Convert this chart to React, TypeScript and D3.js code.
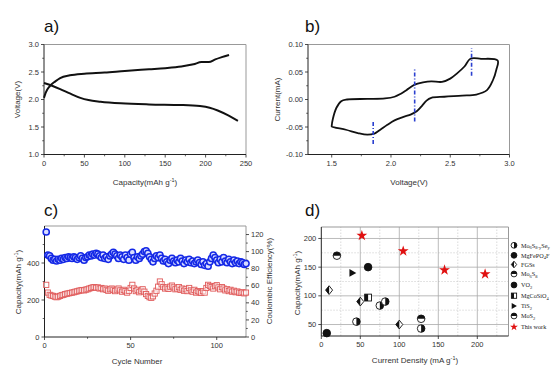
import React from 'react';
import * as d3 from 'd3';

// ---------- Data ----------
const chargeCurve: [number, number][] = [[0,2.03],[2,2.12],[7,2.24],[14,2.33],[20,2.39],[32,2.44],[50,2.47],[75,2.49],[100,2.52],[130,2.55],[150,2.57],[170,2.60],[185,2.64],[195,2.68],[204,2.68],[212,2.73],[220,2.77],[229,2.81]];
const dischargeCurve: [number, number][] = [[0,2.30],[10,2.25],[20,2.19],[32,2.11],[45,2.03],[55,1.99],[70,1.96],[95,1.93],[130,1.91],[170,1.90],[193,1.88],[205,1.85],[215,1.80],[228,1.71],[240,1.61]];

const cvLoop: [number, number][] = [[1.50,-0.048],[1.51,-0.035],[1.54,-0.015],[1.58,-0.003],[1.63,0.0],[1.8,0.001],[1.95,0.002],[2.03,0.005],[2.08,0.010],[2.13,0.017],[2.2,0.027],[2.27,0.031],[2.34,0.033],[2.43,0.032],[2.5,0.038],[2.56,0.048],[2.62,0.060],[2.67,0.074],[2.76,0.074],[2.9,0.071],[2.89,0.055],[2.86,0.035],[2.81,0.017],[2.72,0.009],[2.6,0.007],[2.45,0.005],[2.34,0.003],[2.3,-0.002],[2.26,-0.012],[2.22,-0.021],[2.17,-0.027],[2.1,-0.032],[2.03,-0.038],[1.97,-0.046],[1.91,-0.055],[1.86,-0.062],[1.8,-0.064],[1.72,-0.061],[1.62,-0.055],[1.5,-0.049]];
const cvPeakLines: [number, number, number][] = [[1.85,-0.081,-0.040],[2.2,-0.040,0.055],[2.68,0.043,0.093]];

const cycles: number[] = Array.from({ length: 117 }, (_, i) => i + 1);
const efficiency: number[] = [123,96,95,92,90,91,89,91,90,92,91,93,92,94,93,92,94,93,91,93,95,92,90,93,94,96,95,97,96,98,97,95,93,96,92,94,91,95,97,99,97,95,92,96,94,91,96,93,90,97,99,93,90,94,92,95,97,100,101,98,94,91,88,92,95,93,96,92,89,91,88,86,90,92,89,87,90,88,92,89,86,90,88,91,87,89,86,88,90,87,85,88,84,86,83,88,92,96,93,90,87,91,88,93,89,87,91,88,86,90,87,89,86,88,87,85,86];
const capacity: number[] = [282,240,228,224,222,218,215,218,222,226,228,232,234,236,238,240,242,245,247,250,252,254,252,256,258,262,265,268,270,266,268,262,265,258,262,255,250,258,262,255,248,256,262,252,245,255,248,240,250,265,282,262,248,255,242,250,258,245,232,222,215,212,220,235,250,272,300,285,270,262,268,260,272,278,268,258,262,270,255,262,250,258,248,265,252,245,255,240,248,242,238,248,240,265,282,276,270,262,275,280,268,258,270,262,252,258,248,255,245,250,242,246,240,238,242,236,240];

const materials: string[] = ['Mo6S8-ySey','MgFePO4F','FGSs','Mo6S8','VO2','MgCoSiO4','TiS2','MoS2','This work'];
const materialMarkers: string[] = ['halfR','full','diamond','halfTop','full','halfSquare','tri','halfTop','star'];
const densityX: number[] = [45,75,82,128, 7, 10,50,100, 20, 60, 60, 40, 128, 52,105,158,210];
const densityY: number[] = [55,83,90,43, 35, 110,90,50, 170, 150, 97, 140, 60, 205,178,145,138];
const densityMat: number[] = [0,0,0,0, 1, 2,2,2, 3, 4, 5, 6, 7, 8,8,8,8];

const aXTicks = [0,50,100,150,200,250];
const aYTicks = [1.0,1.5,2.0,2.5,3.0];
const bXTicks = [1.5,2.0,2.5,3.0];
const bYTicks = [-0.10,-0.05,0.00,0.05,0.10];
const cXTicks = [0,50,100];
const cYLTicks = [0,200,400];
const cYRTicks = [0,20,40,60,80,100,120];
const dXTicks = [0,50,100,150,200];
const dYTicks = [50,100,150,200];

const FONT = "'Liberation Sans', Arial, sans-serif";
const SERIF = "'Liberation Serif', 'Times New Roman', serif";

// ---------- Scales ----------
const aX = d3.scaleLinear().domain([0, 250]).range([44, 246]);
const aY = d3.scaleLinear().domain([1, 3]).range([154.5, 44.5]);
const bX = d3.scaleLinear().domain([1.3, 3.0]).range([308, 509.5]);
const bY = d3.scaleLinear().domain([-0.1, 0.1]).range([154.5, 44.5]);
const cX = d3.scaleLinear().domain([0, 117]).range([44.5, 246]);
const cYL = d3.scaleLinear().domain([0, 600]).range([337, 226]);
const cYR = d3.scaleLinear().domain([0, 130]).range([337, 226]);
const dX = d3.scaleLinear().domain([0, 240]).range([321.3, 508.5]);
const dY = d3.scaleLinear().domain([30, 220]).range([336, 227]);

type S = d3.ScaleLinear<number, number>;

function Frame({ x, y }: { x: S; y: S }) {
  const [x0, x1] = x.range();
  const [y0, y1] = y.range();
  return (
    <g>
      <line x1={x0} x2={x1} y1={y1} y2={y1} stroke="#999" strokeWidth={1} />
      <line x1={x1} x2={x1} y1={y1} y2={y0} stroke="#999" strokeWidth={1} />
      <line x1={x0} x2={x1} y1={y0} y2={y0} stroke="#222" strokeWidth={1} />
      <line x1={x0} x2={x0} y1={y1} y2={y0} stroke="#222" strokeWidth={1} />
    </g>
  );
}

function XTicks({ x, y, ticks, fmt, minor }: { x: S; y: S; ticks: number[]; fmt: (v: number) => string; minor?: number[] }) {
  const y0 = y.range()[0];
  return (
    <g>
      {ticks.map((t) => (
        <g key={t}>
          <line x1={x(t)} x2={x(t)} y1={y0} y2={y0 + 3} stroke="#222" strokeWidth={0.8} />
          <text x={x(t)} y={y0 + 11} fontSize={7.5} textAnchor="middle" fill="#333" fontFamily={FONT}>{fmt(t)}</text>
        </g>
      ))}
      {(minor || []).map((t) => (
        <line key={'m' + t} x1={x(t)} x2={x(t)} y1={y0} y2={y0 + 1.8} stroke="#222" strokeWidth={0.7} />
      ))}
    </g>
  );
}

function YTicks({ x, y, ticks, fmt, minor, right }: { x: S; y: S; ticks: number[]; fmt: (v: number) => string; minor?: number[]; right?: boolean }) {
  const x0 = right ? x.range()[1] : x.range()[0];
  const dir = right ? 1 : -1;
  return (
    <g>
      {ticks.map((t) => (
        <g key={t}>
          <line x1={x0} x2={x0 + dir * 3} y1={y(t)} y2={y(t)} stroke="#222" strokeWidth={0.8} />
          <text x={x0 + dir * 5} y={y(t) + 2.6} fontSize={7.5} textAnchor={right ? 'start' : 'end'} fill="#333" fontFamily={FONT}>{fmt(t)}</text>
        </g>
      ))}
      {(minor || []).map((t) => (
        <line key={'m' + t} x1={x0} x2={x0 + dir * 1.8} y1={y(t)} y2={y(t)} stroke="#222" strokeWidth={0.7} />
      ))}
    </g>
  );
}

function Unit({ base }: { base: string }) {
  return (
    <>
      {base}<tspan fontSize={5.5} dy={-3}>-1</tspan><tspan dy={3}>)</tspan>
    </>
  );
}

function Marker({ type, cx, cy, r }: { type: string; cx: number; cy: number; r: number }) {
  const sw = 0.9;
  if (type === 'full') return <circle cx={cx} cy={cy} r={r} fill="#111" stroke="#111" strokeWidth={sw} />;
  if (type === 'halfR')
    return (
      <g>
        <circle cx={cx} cy={cy} r={r} fill="#fff" stroke="#111" strokeWidth={sw} />
        <path d={`M${cx},${cy - r} A${r},${r} 0 0 1 ${cx},${cy + r} Z`} fill="#111" />
      </g>
    );
  if (type === 'halfTop')
    return (
      <g>
        <circle cx={cx} cy={cy} r={r} fill="#fff" stroke="#111" strokeWidth={sw} />
        <path d={`M${cx - r},${cy} A${r},${r} 0 0 1 ${cx + r},${cy} Z`} fill="#111" />
      </g>
    );
  if (type === 'diamond') {
    const h = r * 1.15;
    return (
      <g>
        <path d={`M${cx},${cy - h} L${cx + h * 0.8},${cy} L${cx},${cy + h} L${cx - h * 0.8},${cy} Z`} fill="#fff" stroke="#111" strokeWidth={sw} />
        <path d={`M${cx},${cy - h} L${cx - h * 0.8},${cy} L${cx},${cy + h} Z`} fill="#111" />
      </g>
    );
  }
  if (type === 'halfSquare') {
    const h = r * 0.9;
    return (
      <g>
        <rect x={cx - h} y={cy - h} width={2 * h} height={2 * h} fill="#fff" stroke="#111" strokeWidth={sw} />
        <rect x={cx - h} y={cy - h} width={h} height={2 * h} fill="#111" />
      </g>
    );
  }
  if (type === 'tri')
    return <path d={`M${cx - r * 0.8},${cy - r} L${cx + r},${cy} L${cx - r * 0.8},${cy + r} Z`} fill="#111" />;
  if (type === 'star') {
    const p = d3.symbol().type(d3.symbolStar).size(r * r * 1.35)();
    return <path d={p || ''} transform={`translate(${cx},${cy})`} fill="#e01010" />;
  }
  return null;
}

function LegendLabel({ name }: { name: string }) {
  const sub = (s: string) => <tspan fontSize={4.5} dy={1.5}>{s}</tspan>;
  const up = <tspan dy={-1.5}></tspan>;
  switch (name) {
    case 'Mo6S8-ySey':
      return <>Mo{sub('6')}<tspan dy={-1.5}>S</tspan>{sub('8-y')}<tspan dy={-1.5}>Se</tspan>{sub('y')}</>;
    case 'MgFePO4F':
      return <>MgFePO{sub('4')}<tspan dy={-1.5}>F</tspan></>;
    case 'Mo6S8':
      return <>Mo{sub('6')}<tspan dy={-1.5}>S</tspan>{sub('8')}</>;
    case 'VO2':
      return <>VO{sub('2')}</>;
    case 'MgCoSiO4':
      return <>MgCoSiO{sub('4')}</>;
    case 'TiS2':
      return <>TiS{sub('2')}</>;
    case 'MoS2':
      return <>MoS{sub('2')}</>;
    default:
      return <>{name}{up}</>;
  }
}

export default function App() {
  const lineA = d3.line<[number, number]>().x((d) => aX(d[0])).y((d) => aY(d[1])).curve(d3.curveMonotoneX);
  const lineB = d3.line<[number, number]>().x((d) => bX(d[0])).y((d) => bY(d[1])).curve(d3.curveCatmullRomClosed.alpha(0.5));

  const legendY = [245.3, 255.3, 264.5, 274, 285, 295.7, 306, 316, 327];

  return (
    <svg width={558} height={376} style={{ position: 'absolute', left: 0, top: 0, background: '#fff' }} fontFamily={FONT}>
      <rect x={0} y={0} width={558} height={376} fill="#fff" />

      {/* ---------- Panel a ---------- */}
      <text x={44} y={31.5} fontSize={17} fill="#111">a)</text>
      <Frame x={aX} y={aY} />
      <XTicks x={aX} y={aY} ticks={aXTicks} fmt={(v) => String(v)} minor={[25, 75, 125, 175, 225]} />
      <YTicks x={aX} y={aY} ticks={aYTicks} fmt={(v) => v.toFixed(1)} minor={[1.25, 1.75, 2.25, 2.75]} />
      <path d={lineA(chargeCurve) || ''} fill="none" stroke="#111" strokeWidth={2} />
      <path d={lineA(dischargeCurve) || ''} fill="none" stroke="#111" strokeWidth={2} />
      <text x={145} y={185} fontSize={8} textAnchor="middle" fill="#333"><Unit base="Capacity(mAh g" /></text>
      <text transform="translate(20,99.5) rotate(-90)" fontSize={8} textAnchor="middle" fill="#333">Voltage(V)</text>

      {/* ---------- Panel b ---------- */}
      <text x={305} y={31.5} fontSize={17} fill="#111">b)</text>
      <Frame x={bX} y={bY} />
      <XTicks x={bX} y={bY} ticks={bXTicks} fmt={(v) => v.toFixed(1)} minor={[1.75, 2.25, 2.75]} />
      <YTicks x={bX} y={bY} ticks={bYTicks} fmt={(v) => v.toFixed(2)} minor={[-0.075, -0.025, 0.025, 0.075]} />
      <path d={lineB(cvLoop) || ''} fill="none" stroke="#111" strokeWidth={1.8} />
      {cvPeakLines.map(([v, lo, hi]) => (
        <line key={v} x1={bX(v)} x2={bX(v)} y1={bY(lo)} y2={bY(hi)} stroke="#2a3fd0" strokeWidth={1.6} strokeDasharray="4,2,1,2" />
      ))}
      <text x={409} y={185} fontSize={8} textAnchor="middle" fill="#333">Voltage(V)</text>
      <text transform="translate(280,99.5) rotate(-90)" fontSize={8} textAnchor="middle" fill="#333">Current(mA)</text>

      {/* ---------- Panel c ---------- */}
      <text x={44} y={216} fontSize={17} fill="#111">c)</text>
      <Frame x={cX} y={cYL} />
      <XTicks x={cX} y={cYL} ticks={cXTicks} fmt={(v) => String(v)} minor={[25, 75]} />
      <YTicks x={cX} y={cYL} ticks={cYLTicks} fmt={(v) => String(v)} minor={[100, 300, 500]} />
      <YTicks x={cX} y={cYR} ticks={cYRTicks} fmt={(v) => String(v)} minor={[10, 30, 50, 70, 90, 110]} right />
      <g>
        {cycles.map((c, i) => (
          <rect key={'r' + c} x={cX(c) - 2.6} y={cYL(capacity[i]) - 2.6} width={5.2} height={5.2} fill="rgba(255,255,255,0.6)" stroke="#e05a5a" strokeWidth={0.9} />
        ))}
      </g>
      <g>
        {cycles.map((c, i) => (
          <circle key={'b' + c} cx={cX(c)} cy={cYR(efficiency[i])} r={3.1} fill="#d8dcff" stroke="#1428e6" strokeWidth={1.5} />
        ))}
      </g>
      <text x={137} y={364} fontSize={8} textAnchor="middle" fill="#333">Cycle Number</text>
      <text transform="translate(21,282) rotate(-90)" fontSize={8} textAnchor="middle" fill="#333"><Unit base="Capacity(mAh g" /></text>
      <text transform="translate(272,281) rotate(-90)" fontSize={8} textAnchor="middle" fill="#333">Coulombic Efficiency(%)</text>

      {/* ---------- Panel d ---------- */}
      <text x={305} y={216} fontSize={17} fill="#111">d)</text>
      <g>
        {[25, 75, 125, 175, 225].map((v) => (
          <line key={'gx' + v} x1={dX(v)} x2={dX(v)} y1={dY.range()[0]} y2={dY.range()[1]} stroke="#ccc" strokeWidth={0.7} strokeDasharray="1.5,1.5" />
        ))}
        {[75, 125, 175].map((v) => (
          <line key={'gy' + v} x1={dX.range()[0]} x2={dX.range()[1]} y1={dY(v)} y2={dY(v)} stroke="#ccc" strokeWidth={0.7} strokeDasharray="1.5,1.5" />
        ))}
        {[50, 100, 150, 200].map((v) => (
          <line key={'GX' + v} x1={dX(v)} x2={dX(v)} y1={dY.range()[0]} y2={dY.range()[1]} stroke="#aaa" strokeWidth={0.8} />
        ))}
        {dYTicks.map((v) => (
          <line key={'GY' + v} x1={dX.range()[0]} x2={dX.range()[1]} y1={dY(v)} y2={dY(v)} stroke="#aaa" strokeWidth={0.8} />
        ))}
      </g>
      <Frame x={dX} y={dY} />
      <XTicks x={dX} y={dY} ticks={dXTicks} fmt={(v) => String(v)} />
      <YTicks x={dX} y={dY} ticks={dYTicks} fmt={(v) => String(v)} />
      {densityX.map((xv, i) => (
        <Marker key={'p' + i} type={materialMarkers[densityMat[i]]} cx={dX(xv)} cy={dY(densityY[i])} r={materialMarkers[densityMat[i]] === 'star' ? 5.2 : 3.8} />
      ))}
      <text x={415} y={363} fontSize={8} textAnchor="middle" fill="#333"><Unit base="Current Density (mA g" /></text>
      <text transform="translate(300,283) rotate(-90)" fontSize={8} textAnchor="middle" fill="#333"><Unit base="Capacity(mAh g" /></text>

      {/* legend */}
      {materials.map((m, i) => (
        <g key={m}>
          <Marker type={materialMarkers[i]} cx={514} cy={legendY[i]} r={materialMarkers[i] === 'star' ? 3.8 : 2.9} />
          <text x={521} y={legendY[i] + 2.3} fontSize={6.2} fontFamily={SERIF} fill="#222"><LegendLabel name={m} /></text>
        </g>
      ))}
    </svg>
  );
}
